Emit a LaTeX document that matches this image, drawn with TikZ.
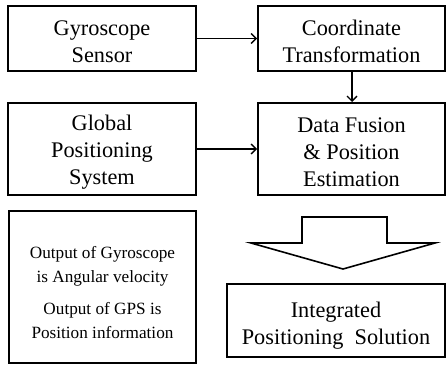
\documentclass[tikz,border=0pt]{standalone}
\usepackage{fontspec}
\setmainfont{Liberation Serif}
\usetikzlibrary{arrows.meta}
\newcommand{\dnA}{\rule{0pt}{21pt}}
\newcommand{\dnB}{\rule{0pt}{25pt}}
\newcommand{\dnC}{\rule{0pt}{23.5pt}}
\tikzset{
  blk/.style={draw=black, line width=2pt, rectangle, align=center, inner sep=0pt,
    font=\fontsize{22.3}{27}\selectfont},
  conn/.style={draw=black, line width=1.3pt, -{Straight Barb[length=5pt,width=10pt,line width=1.3pt]}},
  bigarrow/.style={draw=black, line width=1.6pt, line join=miter, fill=white}
}
\begin{document}
\begin{tikzpicture}[x=1pt,y=-1pt]
\useasboundingbox (0,0) rectangle (446,370);
\node[blk, minimum width=188pt, minimum height=65pt] (gyro) at (102,38.5) {\dnA Gyroscope\\Sensor};
\node[blk, minimum width=187pt, minimum height=65pt] (coord) at (351.5,38.5) {\dnA Coordinate\\Transformation};
\node[blk, minimum width=188pt, minimum height=92pt] (gps) at (102,149) {\dnA Global\\Positioning\\System};
\node[blk, minimum width=187pt, minimum height=92pt] (fusion) at (351.5,149) {\dnA Data Fusion\\\& Position\\Estimation};
\node[blk, minimum width=187pt, minimum height=152pt, font=\fontsize{17.2}{23.5}\selectfont] (note) at (102.5,287)
  {\dnC Output of Gyroscope\\is Angular velocity\\[9pt]Output of GPS is\\Position information};
\node[blk, minimum width=218pt, minimum height=73pt] (integ) at (336,320.5) {\dnB Integrated\\Positioning\ \ Solution};
\draw[conn] (gyro.east) -- (coord.west);
\draw[conn] (gps.east) -- (fusion.west);
\draw[conn] (coord.south -| 352,0) -- (fusion.north -| 352,0);
\draw[bigarrow] (302,217) -- (387,217) -- (387,243) -- (435,243) -- (343,269) -- (251,243) -- (302,243) -- cycle;
\end{tikzpicture}
\end{document}
